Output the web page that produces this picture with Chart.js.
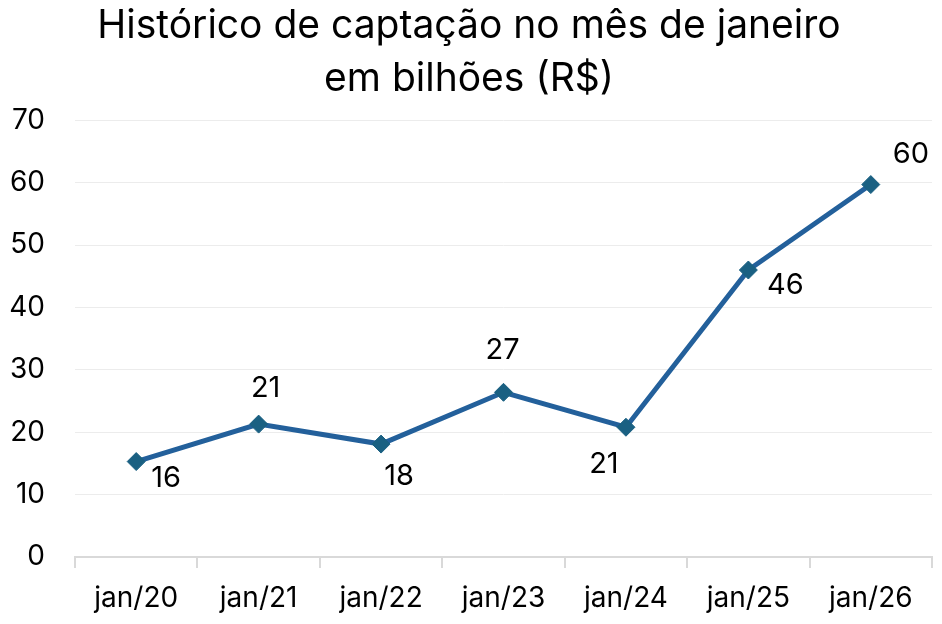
<!DOCTYPE html><html lang="pt"><head>
<meta charset="UTF-8">
<title>Captação janeiro</title>
<script src="https://cdn.jsdelivr.net/npm/chart.js@4"></script>
<style>
  html, body { margin: 0; padding: 0; background: #fff; }
  #wrap { width: 942px; height: 624px; }
</style>
</head>
<body>
<div id="wrap"><canvas id="myChart" width="942" height="624"></canvas></div>
<script>
  // values
  const months = ['jan/20', 'jan/21', 'jan/22', 'jan/23', 'jan/24', 'jan/25', 'jan/26'];
  const captacao = [15.3, 21.3, 18.1, 26.4, 20.8, 46.0, 59.7];
  const labelText = ['16', '21', '18', '27', '21', '46', '60'];
  const yTicks = [0, 10, 20, 30, 40, 50, 60, 70];

  // where each data label sits relative to its point (px)
  const labelOffsets = [[30, 17], [7, -36], [18, 32], [-1, -42], [-22, 37], [37, 15], [40, -30]];

  const FONT = 'Inter, "Noto Sans", sans-serif';

  const dataLabels = {
    id: 'dataLabels',
    afterDatasetsDraw(chart) {
      const ctx = chart.ctx;
      const meta = chart.getDatasetMeta(0);
      ctx.save();
      ctx.font = '29px ' + FONT;
      ctx.fillStyle = '#000';
      ctx.textAlign = 'center';
      ctx.textBaseline = 'middle';
      meta.data.forEach((pt, i) => {
        const off = labelOffsets[i];
        ctx.fillText(labelText[i], pt.x + off[0], pt.y + off[1]);
      });
      ctx.restore();
    }
  };

  const ctx = document.getElementById('myChart').getContext('2d');
  new Chart(ctx, {
    type: 'line',
    data: {
      labels: months,
      datasets: [{
        data: captacao,
        borderColor: '#23609b',
        borderWidth: 5,
        pointStyle: 'rectRot',
        pointRadius: 9,
        pointBackgroundColor: '#1a6082',
        pointBorderColor: '#1a6082',
        pointBorderWidth: 1,
        tension: 0,
        fill: false
      }]
    },
    options: {
      responsive: false,
      animation: false,
      layout: { padding: { left: 6, right: 10, top: 0, bottom: 2 } },
      plugins: {
        legend: { display: false },
        tooltip: { enabled: false },
        title: {
          display: true,
          text: ['Histórico de captação no mês de janeiro', 'em bilhões (R$)'],
          color: '#000',
          font: { family: FONT, size: 39, weight: 'normal', lineHeight: 1.35 },
          padding: { top: 0, bottom: 15 }
        }
      },
      scales: {
        x: {
          offset: true,
          afterFit(axis) {
            axis.height = 65;
          },
          grid: {
            offset: true,
            drawOnChartArea: false,
            drawTicks: true,
            tickLength: 11,
            color: '#d9d9d9',
            lineWidth: 2
          },
          border: { display: true, color: '#d9d9d9', width: 2 },
          ticks: {
            color: '#000',
            font: { family: FONT, size: 28 },
            padding: 14,
            maxRotation: 0
          }
        },
        y: {
          min: 0,
          max: 70,
          afterBuildTicks(axis) {
            axis.ticks = yTicks.map(v => ({ value: v }));
          },
          afterFit(axis) {
            axis.width = 69;
          },
          grid: { color: '#ececec', lineWidth: 1, drawTicks: false },
          border: { display: false },
          ticks: {
            color: '#000',
            font: { family: FONT, size: 28 },
            padding: 30
          }
        }
      }
    },
    plugins: [dataLabels]
  });
</script>
</body></html>
